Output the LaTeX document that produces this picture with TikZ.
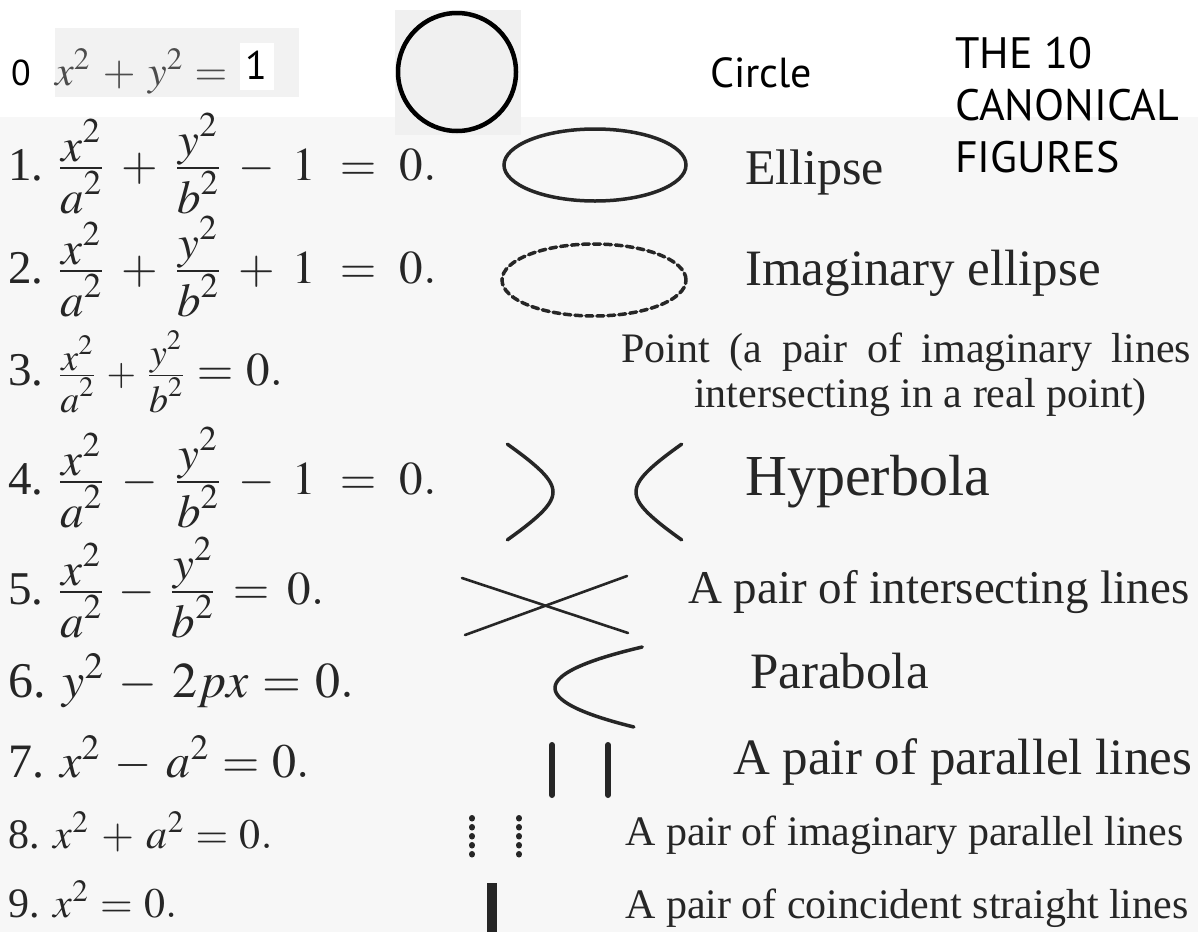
\documentclass[tikz,border=0pt]{standalone}
\usepackage{mathptmx}
\usepackage{fontspec}
\setmainfont{Liberation Serif}
\newfontfamily\titlesans{PT Sans}
\usetikzlibrary{positioning}
\definecolor{pagegrey}{RGB}{247,247,247}
\definecolor{eqboxgrey}{RGB}{242,242,242}
\definecolor{circgrey}{RGB}{240,240,240}
\definecolor{inkgrey}{RGB}{38,38,38}
\newcommand\setsz[1]{\fontsize{#1}{#1}\selectfont}
% full-size numerator and denominator, tight fraction gaps
\newcommand\bookfrac[2]{{\textstyle\frac{\displaystyle #1}{\displaystyle #2}}}
\tikzset{
  eqn/.style={anchor=base west, inner sep=0pt, text=inkgrey, font=\setsz{#1}},
  eqn/.default=47,
  wide eqn/.style={eqn, font={\setsz{47}\medmuskip=7mu\thickmuskip=9mu}},
  mid eqn/.style={eqn, font={\setsz{47}\medmuskip=6mu\thickmuskip=7mu}},
  fig name/.style={anchor=base west, inner sep=0pt, text=inkgrey, font=\setsz{#1}},
  sans label/.style={anchor=base west, inner sep=0pt, text=black, font=\titlesans\setsz{#1}},
  conic/.style={draw=inkgrey, line width=3.5pt, line cap=round},
  thin conic/.style={draw=inkgrey, line width=2.6pt, line cap=round}
}

\begin{document}
\medmuskip=5.5mu plus 1mu minus 1mu
\thickmuskip=5mu plus 1mu
\begin{tikzpicture}[x=1pt, y=-1pt]
  \useasboundingbox (0,0) rectangle (1198,932);
  % backgrounds
  \fill[white] (0,0) rectangle (1198,117);
  \fill[pagegrey] (0,117) rectangle (1198,932);
  \fill[eqboxgrey] (55,28) rectangle (299,97);
  \fill[white] (240,43) rectangle (274,90);
  \fill[circgrey] (395,10) rectangle (521,135);

  % title and row 0
  \node[sans label=44] (title1) at (955,68) {THE 10};
  \node[sans label=44] (title2) at (955,120) {CANONICAL};
  \node[sans label=44] (title3) at (955,172) {FIGURES};
  \node[sans label=36] (num0) at (11,85) {0};
  \node[eqn=42] (eq0) at (55,85) {\color{black!70}$x^2+y^2=$};
  \node[sans label=40] (one0) at (245,79) {1};
  \node[sans label=42] (nm0) at (710,87) {Circle};
  \draw[line width=4.5pt, fill=circgrey] (457,72) circle (59pt);

  % equations
  \node[wide eqn] (eq1) at (8,180) {1. $\bookfrac{x^2}{a^2}+\bookfrac{y^2}{b^2}-1=0.$};
  \node[wide eqn] (eq2) at (8,283) {2. $\bookfrac{x^2}{a^2}+\bookfrac{y^2}{b^2}+1=0.$};
  \node[eqn] (eq3) at (8,385) {3. {\setsz{38}$\bookfrac{x^2}{a^2}+\bookfrac{y^2}{b^2}$}\;$=0.$};
  \node[wide eqn] (eq4) at (8,494) {4. $\bookfrac{x^2}{a^2}-\bookfrac{y^2}{b^2}-1=0.$};
  \node[mid eqn] (eq5) at (8,604) {5. $\bookfrac{x^2}{a^2}-\bookfrac{y^2}{b^2}=0.$};
  \node[eqn=50] (eq6) at (8,697) {6. $y^2-2px=0.$};
  \node[eqn=48] (eq7) at (8,777) {7. $x^2-a^2=0.$};
  \node[eqn=42] (eq8) at (8,848) {8. $x^2+a^2=0.$};
  \node[eqn=42] (eq9) at (8,917) {9. $x^2=0.$};

  % names
  \node[fig name=50] (nm1) at (745,184) {Ellipse};
  \node[fig name=51] (nm2) at (745,285) {Imaginary ellipse};
  \node[fig name=42] (nm3a) at (621,362) {\makebox[570pt][s]{Point (a pair of imaginary lines}};
  \node[fig name=42] (nm3b) at (694,407) {intersecting in a real point)};
  \node[fig name=58] (nm4) at (745,495) {Hyperbola};
  \node[fig name=47] (nm5) at (688,603) {A pair of intersecting lines};
  \node[fig name=51] (nm6) at (750,688) {Parabola};
  \node[fig name=51] (nm7) at (733,774) {A pair of parallel lines};
  \node[fig name=42] (nm8) at (625,845) {A pair of imaginary parallel lines};
  \node[fig name=42] (nm9) at (625,918) {A pair of coincident straight lines};

  % figures
  \draw[conic] (595,165) ellipse (91pt and 36pt);
  \draw[conic, dash pattern=on 7pt off 4pt] (594,280) ellipse (92pt and 36pt);
  \draw[conic] plot[domain=-1.38:1.38, samples=41, smooth, variable=\t]
        ({553-41*(cosh(\t)-1)}, {492+25.7*sinh(\t)});
  \draw[conic] plot[domain=-1.38:1.38, samples=41, smooth, variable=\t]
        ({636+41*(cosh(\t)-1)}, {492+25.7*sinh(\t)});
  \draw[thin conic] (462,578) -- (628,633);
  \draw[thin conic] (627,576) -- (465,635);
  \draw[conic] plot[domain=-1.025:0.975, samples=41, smooth, variable=\t]
        ({555+83*\t*\t}, {688+40*\t});
  \draw[conic, line width=6pt] (552,745) -- (552,795);
  \draw[conic, line width=6pt] (608,745) -- (608,795);
  \draw[conic, line width=6pt, dash pattern=on 0.5pt off 8.5pt] (472,818) -- (472,862);
  \draw[conic, line width=6pt, dash pattern=on 0.5pt off 8.5pt] (519,818) -- (519,862);
  \fill[inkgrey] (487,883) rectangle (497,932);
\end{tikzpicture}
\end{document}
